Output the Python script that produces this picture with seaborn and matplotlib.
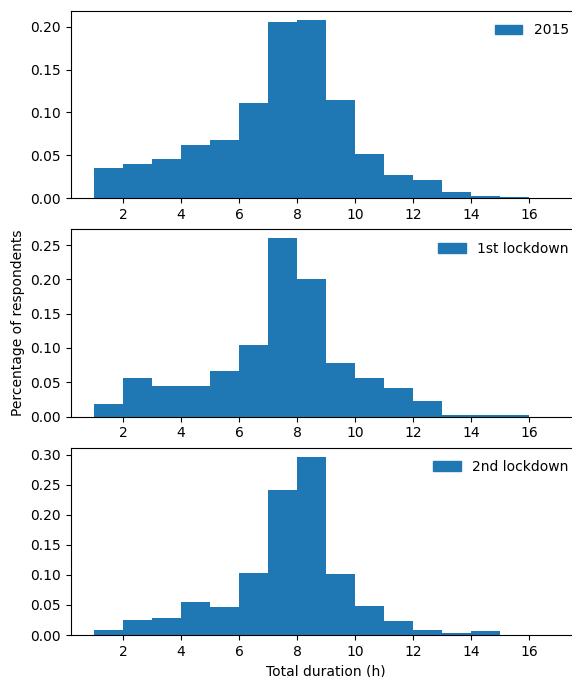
import matplotlib
matplotlib.use("Agg")
import matplotlib.pyplot as plt
from matplotlib.patches import Patch
from matplotlib.ticker import MultipleLocator, FormatStrFormatter
import seaborn as sns
import pandas as pd

# bin edges in hours (1 h wide bins from 1 to 17)
edges = list(range(1, 18))
centers = [e + 0.5 for e in edges[:-1]]

# share of respondents per bin
share_2015 = [0.035, 0.040, 0.046, 0.062, 0.068, 0.111, 0.205, 0.208,
              0.114, 0.052, 0.027, 0.021, 0.007, 0.003, 0.001, 0.0]
share_1st = [0.018, 0.056, 0.044, 0.044, 0.066, 0.104, 0.260, 0.200,
             0.078, 0.056, 0.041, 0.022, 0.003, 0.003, 0.003, 0.0]
share_2nd = [0.008, 0.025, 0.029, 0.055, 0.047, 0.104, 0.241, 0.297,
             0.101, 0.049, 0.023, 0.008, 0.004, 0.006, 0.0, 0.0]

series = [share_2015, share_1st, share_2nd]
labels = ['2015', '1st lockdown', '2nd lockdown']
color = '#1f77b4'

fig, axes = plt.subplots(3, 1, figsize=(5.72, 6.77), dpi=100)
fig.subplots_adjust(left=0.124, right=1.016, bottom=0.062, top=0.984,
                    hspace=0.166)

for ax, vals, lab in zip(axes, series, labels):
    df = pd.DataFrame({'hours': centers, 'share': vals})
    sns.histplot(data=df, x='hours', weights='share', bins=edges,
                 color=color, alpha=1, linewidth=0, ax=ax)
    ax.set_xlim(0.2, 17.8)
    ax.yaxis.set_major_locator(MultipleLocator(0.05))
    ax.yaxis.set_major_formatter(FormatStrFormatter('%.2f'))
    ax.spines['right'].set_visible(False)  # cut off in the original
    ax.set_ylabel('')
    ax.set_xlabel('')
    ax.legend(handles=[Patch(color=color)], labels=[lab],
              loc='upper right', frameon=False)

axes[1].set_ylabel('Percentage of respondents')
axes[2].set_xlabel('Total duration (h)')

fig.savefig('out.png', dpi=100)
